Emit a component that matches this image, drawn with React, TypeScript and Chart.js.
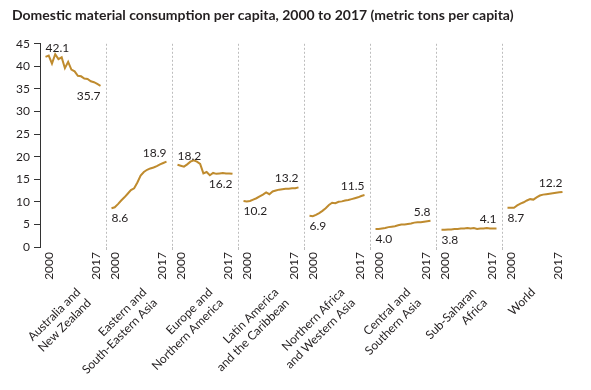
import React, { useEffect, useRef } from "react";
import { Chart, registerables } from "chart.js";

Chart.register(...registerables);

// ---------- data ----------
const years = [2000, 2001, 2002, 2003, 2004, 2005, 2006, 2007, 2008, 2009, 2010, 2011, 2012, 2013, 2014, 2015, 2016, 2017];

const regionLabels: string[][] = [
  ["Australia and", "New Zealand"],
  ["Eastern and", "South-Eastern Asia"],
  ["Europe and", "Northern America"],
  ["Latin America", "and the Caribbean"],
  ["Northern Africa", "and Western Asia"],
  ["Central and", "Southern Asia"],
  ["Sub-Saharan", "Africa"],
  ["World"],
];

const ausNz = [42.1, 42.4, 40.6, 42.7, 41.6, 42.0, 39.6, 41.0, 39.3, 38.9, 37.9, 37.8, 37.3, 37.2, 36.7, 36.5, 36.1, 35.7];
const eastAsia = [8.6, 8.8, 9.5, 10.3, 11.0, 11.8, 12.6, 13.0, 14.3, 15.8, 16.6, 17.1, 17.4, 17.6, 17.9, 18.3, 18.6, 18.9];
const europeNA = [18.2, 18.0, 17.8, 18.3, 18.9, 19.2, 18.9, 18.4, 16.3, 16.6, 15.9, 16.4, 16.2, 16.3, 16.4, 16.3, 16.3, 16.2];
const latAm = [10.2, 10.1, 10.2, 10.5, 10.8, 11.2, 11.6, 12.1, 11.7, 12.3, 12.5, 12.7, 12.8, 12.9, 12.9, 13.0, 13.0, 13.2];
const nAfricaWAsia = [6.9, 6.8, 7.1, 7.5, 8.0, 8.6, 9.3, 9.8, 9.7, 10.0, 10.1, 10.3, 10.4, 10.6, 10.8, 11.0, 11.3, 11.5];
const centralSAsia = [4.0, 4.0, 4.1, 4.2, 4.4, 4.5, 4.6, 4.8, 5.0, 5.0, 5.1, 5.2, 5.4, 5.5, 5.5, 5.6, 5.7, 5.8];
const subSahara = [3.8, 3.8, 3.9, 3.9, 4.0, 4.0, 4.1, 4.1, 4.2, 4.1, 4.2, 4.0, 4.1, 4.1, 4.2, 4.1, 4.1, 4.1];
const world = [8.7, 8.7, 8.7, 9.2, 9.6, 9.9, 10.3, 10.6, 10.5, 11.0, 11.4, 11.6, 11.7, 11.8, 11.9, 12.0, 12.1, 12.2];

const series = [ausNz, eastAsia, europeNA, latAm, nAfricaWAsia, centralSAsia, subSahara, world];

const yTicks = [0, 5, 10, 15, 20, 25, 30, 35, 40, 45];
const yearTickLabels = ["2000", "2017"];

// ---------- layout constants ----------
const PANEL = 20.4; // panel width in year units
const INSET = 1.7; // gap before first year inside each panel
const YEAR_LABEL_POS = [1.1, 15.6]; // year label anchors within a panel (years from 2000)
const REGION_LABEL_BASE = 9.7;
const REGION_LABEL_PER_LINE = 2.2;

const FONT = "Lato, 'Open Sans', sans-serif";
const TEXT = "#231f20";
const LINE = "#BF8B2E";

const nP = regionLabels.length;

const endLabels = {
  id: "endLabels",
  afterDatasetsDraw(chart: any) {
    const ctx = chart.ctx;
    ctx.save();
    ctx.font = `12px ${FONT}`;
    ctx.fillStyle = TEXT;
    ctx.textBaseline = "alphabetic";
    chart.data.datasets.forEach((ds: any, i: number) => {
      const pts = chart.getDatasetMeta(i).data;
      const v0 = ds.data[0].y;
      const v1 = ds.data[ds.data.length - 1].y;
      const p0 = pts[0];
      const p1 = pts[pts.length - 1];
      const falling = v1 < v0;
      ctx.textAlign = "left";
      ctx.fillText(v0.toFixed(1), p0.x, falling ? p0.y - 5 : p0.y + 14);
      ctx.textAlign = "right";
      ctx.fillText(v1.toFixed(1), p1.x, falling ? p1.y + 14 : p1.y - 5);
    });
    ctx.restore();
  },
};

export default function App() {
  const ref = useRef<HTMLCanvasElement | null>(null);

  useEffect(() => {
    if (!ref.current) return;
    const datasets = series.map((vals, i) => ({
      label: regionLabels[i].join(" "),
      data: vals.map((v, k) => ({ x: i * PANEL + INSET + (years[k] - years[0]), y: v })),
      borderColor: LINE,
      backgroundColor: LINE,
      borderWidth: 2,
      pointRadius: 0,
      tension: 0,
      xAxisID: "x",
    }));

    const yearTickValues: number[] = [];
    for (let i = 0; i < nP; i++) {
      YEAR_LABEL_POS.forEach((p) => yearTickValues.push(i * PANEL + INSET + p));
    }

    const chart = new Chart(ref.current, {
      type: "line",
      data: { datasets },
      plugins: [endLabels],
      options: {
        animation: false,
        responsive: false,
        layout: { padding: { left: 12, right: 23, top: 0, bottom: 0 } },
        plugins: {
          legend: { display: false },
          tooltip: { enabled: false },
          title: {
            display: true,
            text: "Domestic material consumption per capita, 2000 to 2017 (metric tons per capita)",
            align: "start",
            color: TEXT,
            font: { family: FONT, size: 14, weight: "bold", lineHeight: 1.2 },
            padding: { top: 7, bottom: 20 },
          },
        },
        scales: {
          y: {
            min: 0,
            max: 45,
            afterBuildTicks: (s: any) => {
              s.ticks = yTicks.map((v) => ({ value: v }));
            },
            afterFit: (s: any) => {
              s.width = 28;
            },
            ticks: { color: TEXT, font: { family: FONT, size: 12 }, padding: 4 },
            grid: { drawOnChartArea: false, drawTicks: true, tickLength: 6, color: "#333" },
            border: { display: true, color: "#333", width: 1 },
          },
          x: {
            type: "linear",
            position: "bottom",
            weight: 0,
            min: 0,
            max: nP * PANEL,
            afterBuildTicks: (s: any) => {
              s.ticks = Array.from({ length: nP - 1 }, (_, i) => ({ value: (i + 1) * PANEL }));
            },
            afterFit: (s: any) => {
              s.height = 3;
              s.paddingLeft = 0;
              s.paddingRight = 0;
            },
            ticks: { display: false },
            grid: { display: true, drawOnChartArea: true, drawTicks: true, tickLength: 3, color: "#bdbdbd", lineWidth: 1 },
            border: { display: false, dash: [2, 2] },
          },
          xYears: {
            type: "linear",
            position: "bottom",
            weight: 1,
            min: 0,
            max: nP * PANEL,
            afterBuildTicks: (s: any) => {
              s.ticks = yearTickValues.map((v) => ({ value: v }));
            },
            afterFit: (s: any) => {
              s.height = 22;
              s.paddingLeft = 0;
              s.paddingRight = 0;
              // let the rotated year labels run past this thin box instead of being clipped
              s._computeLabelArea = () => undefined;
            },
            ticks: {
              autoSkip: false,
              minRotation: 90,
              maxRotation: 90,
              padding: 2,
              color: TEXT,
              font: { family: FONT, size: 12 },
              callback: (_v: any, idx: number) => yearTickLabels[idx % 2],
            },
            grid: { display: false, drawTicks: false },
            border: { display: false },
          },
          xRegions: {
            type: "linear",
            position: "bottom",
            weight: 2,
            min: 0,
            max: nP * PANEL,
            afterBuildTicks: (s: any) => {
              s.ticks = regionLabels.map((lines, i) => ({
                value: i * PANEL + REGION_LABEL_BASE + REGION_LABEL_PER_LINE * (lines.length - 1),
              }));
            },
            afterFit: (s: any) => {
              s.height = 118;
              s.paddingLeft = 0;
              s.paddingRight = 0;
            },
            ticks: {
              autoSkip: false,
              minRotation: 45,
              maxRotation: 45,
              padding: 13,
              color: TEXT,
              font: { family: FONT, size: 12, lineHeight: 1.25 },
              callback: (_v: any, idx: number) => regionLabels[idx],
            },
            grid: { display: false, drawTicks: false },
            border: { display: false },
          },
        },
      },
    } as any);
    return () => chart.destroy();
  }, []);

  return (
    <div style={{ position: "absolute", left: 0, top: 0, width: 591, height: 390, background: "#fff" }}>
      <canvas ref={ref} width={591} height={390} style={{ display: "block" }} />
    </div>
  );
}
